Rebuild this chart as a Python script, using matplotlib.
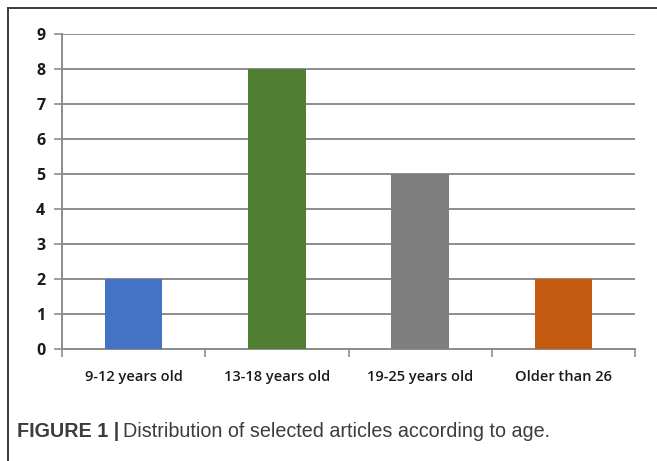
import matplotlib
matplotlib.use("Agg")
import matplotlib.pyplot as plt
from matplotlib.lines import Line2D

categories = ["9-12 years old", "13-18 years old", "19-25 years old", "Older than 26"]
counts = [2, 8, 5, 2]
bar_colors = ["#4472C4", "#507E32", "#7F7F7F", "#C55A11"]
y_ticks = list(range(0, 10))

W, H, DPI = 657, 461, 100
fig = plt.figure(figsize=(W / DPI, H / DPI), dpi=DPI)
fig.patch.set_facecolor("white")

ax = fig.add_axes([62 / W, 1 - 349 / H, (635 - 62) / W, (349 - 34) / H])
x = list(range(len(categories)))
ax.bar(x, counts, width=0.4, color=bar_colors, zorder=3)

ax.set_xlim(-0.5, len(categories) - 0.5)
ax.set_ylim(0, 9)
ax.set_yticks(y_ticks)
ax.set_yticklabels([str(v) for v in y_ticks])
ax.yaxis.grid(True, color="#8c8c8c", linewidth=1.4, zorder=0)
ax.set_axisbelow(True)

# category labels sit between boundary ticks
ax.set_xticks([i - 0.5 for i in range(len(categories) + 1)])
ax.set_xticklabels([])
ax.set_xticks(x, minor=True)
ax.set_xticklabels(categories, minor=True)
ax.tick_params(axis="x", which="minor", length=0, pad=15)
ax.tick_params(axis="x", which="major", direction="out", length=6,
               color="#8c8c8c", width=1.2)
ax.tick_params(axis="y", direction="out", length=6, color="#8c8c8c",
               width=1.2, pad=6)

fam = ["Open Sans", "DejaVu Sans"]
for lbl in ax.get_xticklabels(minor=True):
    lbl.set_fontfamily(fam)
    lbl.set_fontsize(10.5)
    lbl.set_fontweight("semibold")
    lbl.set_color("#1a1a1a")
for lbl in ax.get_yticklabels():
    lbl.set_fontfamily(fam)
    lbl.set_fontsize(11.5)
    lbl.set_fontweight("bold")
    lbl.set_color("#1a1a1a")

for side in ("top", "right"):
    ax.spines[side].set_visible(False)
for side in ("left", "bottom"):
    ax.spines[side].set_color("#8c8c8c")
    ax.spines[side].set_linewidth(1.4)

# frame lines along the top and left edges
fig.add_artist(Line2D([8 / W, 1], [1 - 8 / H, 1 - 8 / H], color="#3a3a3a",
                      linewidth=1.4, transform=fig.transFigure))
fig.add_artist(Line2D([8 / W, 8 / W], [1 - 8 / H, 0], color="#3a3a3a",
                      linewidth=1.4, transform=fig.transFigure))

# caption
cap_y = 1 - 431 / H
bold = fig.text(17 / W, cap_y, "FIGURE 1 |", family=["Liberation Sans"],
                weight="bold", size=14.2, color="#3c3c3c", va="center")
fig.canvas.draw()
bb = bold.get_window_extent(renderer=fig.canvas.get_renderer())
fig.text(bb.x1 / W + 4 / W, cap_y, "Distribution of selected articles according to age.",
         family=["Liberation Sans"], size=14.2, color="#3c3c3c", va="center")

fig.savefig("out.png", dpi=DPI, facecolor="white")
